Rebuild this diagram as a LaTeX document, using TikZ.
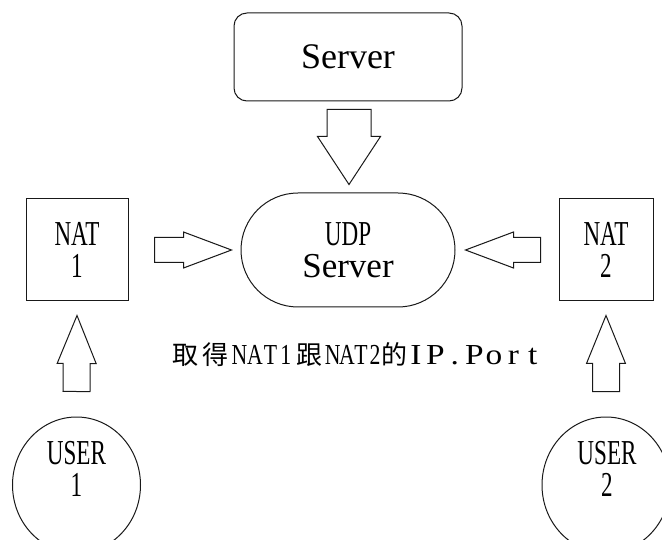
\documentclass[tikz,border=0pt]{standalone}
\usepackage{fontspec}
\setmainfont{Liberation Serif}
\newfontfamily\cond[FakeStretch=0.66]{Liberation Serif}
\newfontfamily\condb[FakeStretch=0.75]{Liberation Serif}
\newfontfamily\widef[FakeStretch=1.15]{Liberation Serif}
\newfontfamily\cjk{Noto Sans CJK TC}
\usetikzlibrary{calc,shapes.geometric}
\newcommand{\cellbox}[2]{\makebox[#1][c]{#2}}
\newcommand{\blockarrow}[4]{%
  \draw[arrowline] let \p1=($(#2)-(#1)$), \n1={veclen(\x1,\y1)}, \n2={atan2(\y1,\x1)} in
    [shift={(#1)}, rotate=\n2]
    (0pt,#3) -- ({(\n1-48)*1pt},#3) -- ({(\n1-48)*1pt},#4) -- ({\n1*1pt},0pt)
    -- ({(\n1-48)*1pt},-#4) -- ({(\n1-48)*1pt},-#3) -- (0pt,-#3) -- cycle;}
\begin{document}
\begin{tikzpicture}[x=1pt,y=-1pt,
  box/.style={draw=black!90, line width=1pt, inner sep=0pt, align=center},
  lbl/.style={inner sep=0pt, align=center, font=\cond\fontsize{35}{32}\selectfont},
  arrowline/.style={draw=black!90, line width=1pt, line join=miter}]
\useasboundingbox (0,0) rectangle (662,540);
\clip (0,0) rectangle (662,540);
% nodes
\node[box, rounded corners=13pt, minimum width=228pt, minimum height=88pt,
      font=\fontsize{36}{36}\selectfont] (server) at (348,57) {Server};
\node[box, rounded corners=57pt, minimum width=214pt, minimum height=114pt,
      font=\fontsize{35}{32}\selectfont] (udp) at (348,250) {{\cond UDP}\\Server};
\node[box, lbl, draw=black!90, line width=1pt, minimum width=102pt, minimum height=102pt] (nat1) at (77,250) {NAT\\1};
\node[box, lbl, draw=black!90, line width=1pt, minimum width=94pt, minimum height=102pt] (nat2) at (606,250) {NAT\\2};
\node[box, ellipse, minimum width=128pt, minimum height=136pt] (user1) at (76.5,485) {};
\node[box, ellipse, minimum width=128pt, minimum height=136pt] (user2) at (606,485) {};
\node[lbl] (u1label) at ($(user1)+(0,-16)$) {USER\\1};
\node[lbl] (u2label) at ($(user2)+(1,-16)$) {USER\\2};
\node[anchor=base west, inner sep=0pt] (note) at (170,365) {%
  {\cjk\fontsize{26}{26}\selectfont\cellbox{30pt}{取}\cellbox{31.5pt}{得}}%
  {\condb\fontsize{29}{29}\selectfont\cellbox{15.5pt}{N}\cellbox{15.5pt}{A}\cellbox{15.5pt}{T}\cellbox{15.5pt}{1}}%
  {\cjk\fontsize{26}{26}\selectfont\cellbox{32pt}{跟}}%
  {\condb\fontsize{29}{29}\selectfont\cellbox{14.1pt}{N}\cellbox{14.1pt}{A}\cellbox{14.1pt}{T}\cellbox{14.1pt}{2}}%
  {\cjk\fontsize{26}{26}\selectfont\cellbox{24pt}{的}}%
  {\widef\fontsize{29}{29}\selectfont\cellbox{19.5pt}{I}\cellbox{19.5pt}{P}\cellbox{19.5pt}{.}\cellbox{19.5pt}{P}\cellbox{19.5pt}{o}\cellbox{19.5pt}{r}\cellbox{19.5pt}{t}}};
% connector end points
\coordinate (dtail) at ($(server.south)+(1,8)$);
\coordinate (dtip) at ($(udp.north)+(1,-8)$);
\coordinate (rtail) at ($(nat1.east)+(26,0)$);
\coordinate (rtip) at ($(udp.west)+(-9,0)$);
\coordinate (ltail) at ($(nat2.west)+(-18,0)$);
\coordinate (ltip) at ($(udp.east)+(10,0)$);
\coordinate (u1tail) at ($(user1.north)+(0,-25)$);
\coordinate (u1tip) at ($(nat1.south)+(0,14)$);
\coordinate (u2tail) at ($(user2.north)+(0,-25)$);
\coordinate (u2tip) at ($(nat2.south)+(0,14)$);
% block arrows
\blockarrow{dtail}{dtip}{22pt}{31.5pt}
\blockarrow{rtail}{rtip}{12.5pt}{18pt}
\blockarrow{ltail}{ltip}{12.5pt}{18pt}
\blockarrow{u1tail}{u1tip}{13.5pt}{19.5pt}
\blockarrow{u2tail}{u2tip}{13.5pt}{19.5pt}
\end{tikzpicture}
\end{document}
